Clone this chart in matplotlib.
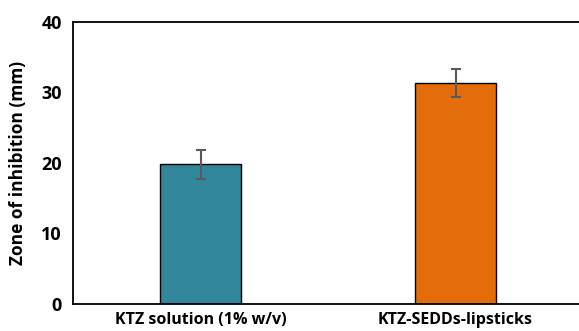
import matplotlib
matplotlib.use("Agg")
import matplotlib.pyplot as plt

# --- Datos ---
categories = ["KTZ solution (1% w/v)", "KTZ-SEDDs-lipsticks"]
values = [19.8, 31.3]
errors = [2.0, 2.0]
colors = ["#31869B", "#E46C0A"]
yticks = [0, 10, 20, 30, 40]

plt.rcParams["font.family"] = ["Open Sans", "DejaVu Sans"]

fig = plt.figure(figsize=(5.79, 3.31), dpi=100)
ax = fig.add_axes([73 / 579, 27 / 331, 510 / 579, 282 / 331])

x = [i + 0.5 for i in range(len(categories))]
ax.bar(x, values, width=0.315, color=colors, edgecolor="black", linewidth=1.0, zorder=2)
ax.errorbar(x, values, yerr=errors, fmt="none", ecolor="#595959",
            elinewidth=1.5, capsize=3.6, capthick=1.5, zorder=3)

ax.set_xlim(0, len(categories))
ax.set_ylim(0, 40)
ax.set_yticks(yticks)
ax.set_xticks(x)
ax.set_xticklabels(categories, fontsize=11.5, fontweight="bold")
ax.set_yticklabels([str(t) for t in yticks], fontsize=13, fontweight="bold")
ax.tick_params(axis="both", length=0)
ax.tick_params(axis="y", pad=8)
ax.tick_params(axis="x", pad=6)
ax.set_ylabel("Zone of inhibition (mm)", fontsize=12.5, fontweight="bold", labelpad=10)

for side in ["left", "bottom", "top"]:
    ax.spines[side].set_linewidth(1.3)
    ax.spines[side].set_color("black")
ax.spines["right"].set_visible(False)

fig.savefig("out.png", dpi=100)
plt.close(fig)
